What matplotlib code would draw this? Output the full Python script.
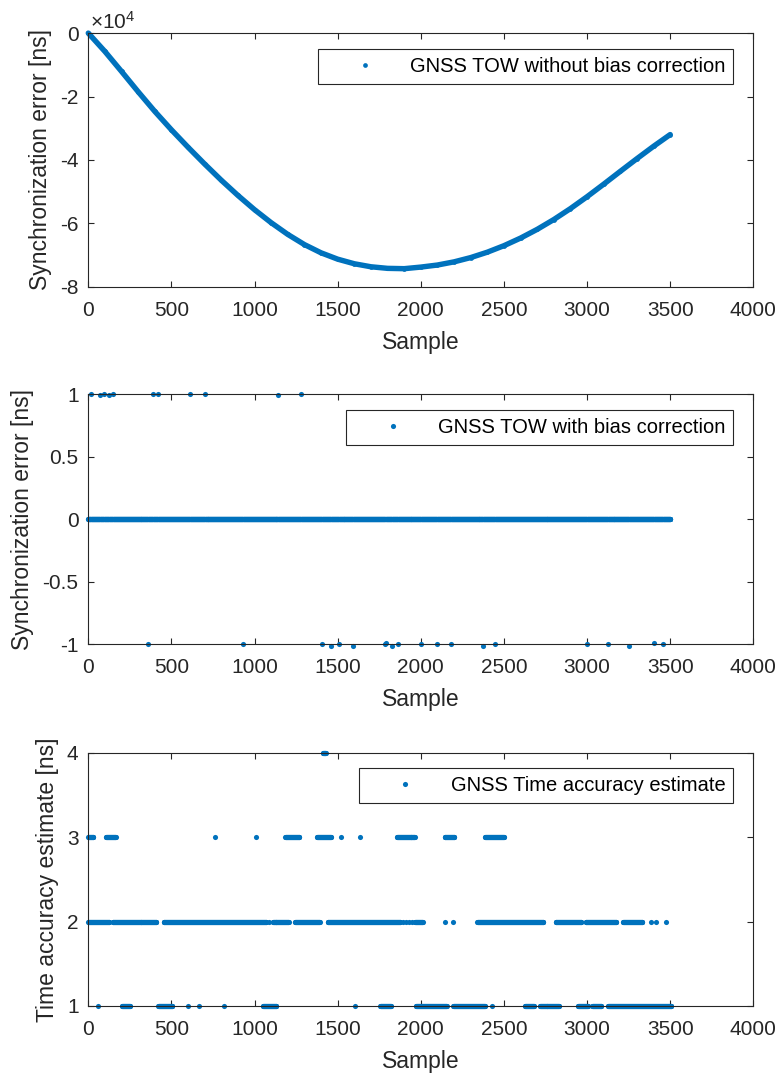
import matplotlib
matplotlib.use("Agg")
import matplotlib.pyplot as plt
import numpy as np

plt.rcParams['font.family'] = ['Liberation Sans', 'DejaVu Sans']
plt.rcParams['mathtext.fontset'] = 'custom'
plt.rcParams['mathtext.rm'] = 'Liberation Sans'
plt.rcParams['mathtext.default'] = 'regular'

BLUE = '#0072BD'
DARK = '#262626'

# --- TOW error without bias correction (ns), every 100 samples ---
tow_raw_sample = [0, 100, 200, 300, 400, 500, 600, 700, 800, 900, 1000,
                  1100, 1200, 1300, 1400, 1500, 1600, 1700, 1800, 1900, 2000,
                  2100, 2200, 2300, 2400, 2500, 2600, 2700, 2800, 2900, 3000,
                  3100, 3200, 3300, 3400, 3500]
tow_raw_err = [0, -5800, -12100, -18500, -24700, -30500, -36000, -41300,
               -46400, -51200, -55700, -59800, -63500, -66700, -69300,
               -71300, -72750, -73700, -74200, -74300, -73800, -73150,
               -72150, -70800, -69100, -67050, -64650, -61900, -58800,
               -55350, -51600, -47650, -43600, -39600, -35700, -32000]

# --- TOW error with bias correction: zero except these samples ---
n_samples = 3500
tow_plus_idx = [14, 70, 94, 122, 146, 390, 420, 610, 704, 1142, 1282]
tow_plus_val = [1.0, 0.99, 1.0, 0.99, 1.0, 1.0, 1.0, 1.0, 1.0, 0.99, 1.0]
tow_minus_idx = [362, 929, 1406, 1460, 1510, 1592, 1782, 1790, 1828, 1864,
                 2004, 2100, 2184, 2372, 2444, 3000, 3128, 3254, 3404, 3456]
tow_minus_val = [-1.0, -1.0, -1.0, -1.01, -1.0, -1.01, -1.0, -0.99, -1.01,
                 -1.0, -1.0, -1.0, -1.0, -1.01, -1.0, -1.0, -1.0, -1.01,
                 -0.99, -1.0]

# --- time accuracy estimate (ns): sample runs at each level ---
acc_runs_1 = [(56, 56), (202, 250), (422, 506), (600, 600), (666, 666),
              (816, 816), (1050, 1130), (1602, 1602), (1756, 1820),
              (1972, 2156), (2196, 2386), (2426, 2426), (2626, 2680),
              (2716, 2832), (2946, 3006), (3032, 3086), (3126, 3506)]
acc_runs_2 = [(0, 126), (146, 410), (454, 1070), (1086, 1086), (1110, 1206),
              (1244, 1392), (1440, 1876), (1890, 1890), (1910, 1910),
              (1930, 1930), (1950, 1950), (1966, 2012), (2148, 2148),
              (2196, 2196), (2340, 2736), (2812, 2966), (2992, 3176),
              (3216, 3332), (3386, 3386), (3416, 3416), (3476, 3476)]
acc_runs_3 = [(0, 30), (106, 164), (762, 762), (1008, 1008), (1186, 1270),
              (1376, 1460), (1520, 1520), (1632, 1632), (1856, 1964),
              (2144, 2202), (2386, 2500)]
acc_runs_4 = [(1412, 1428)]

x_ticks = [0, 500, 1000, 1500, 2000, 2500, 3000, 3500, 4000]


def expand_runs(runs, level, step=2):
    xs = np.concatenate([np.arange(a, b + 1, step) for a, b in runs])
    return xs, np.full(len(xs), level, dtype=float)


def style_axes(ax):
    for sp in ax.spines.values():
        sp.set_color(DARK)
        sp.set_linewidth(0.8)
    ax.tick_params(direction='in', length=4.3, width=0.8, color=DARK,
                   labelcolor=DARK, labelsize=15, top=True, right=True)
    ax.tick_params(axis='x', pad=10)
    ax.tick_params(axis='y', pad=7)
    ax.set_xlim(0, 4000)
    ax.set_xticks(x_ticks)
    ax.set_xlabel('Sample', fontsize=16.5, color=DARK, labelpad=8)


def add_legend(ax, top):
    leg = ax.legend(loc='upper right', bbox_to_anchor=(0.970, top),
                    borderaxespad=0, fontsize=14.5, fancybox=False,
                    framealpha=1, edgecolor=DARK, borderpad=0.4,
                    handlelength=3.8, handletextpad=0.35, markerscale=1.0)
    leg.get_frame().set_linewidth(0.8)
    for t in leg.get_texts():
        t.set_color('black')


fig = plt.figure(figsize=(7.8, 10.78), dpi=100)
ax1 = fig.add_axes([0.1132, 0.734, 0.8526, 0.2353])
ax2 = fig.add_axes([0.1132, 0.4023, 0.8526, 0.2322])
ax3 = fig.add_axes([0.1132, 0.0668, 0.8526, 0.2350])

# top: raw error, drawn as a thick band with the samples on it
ax1.plot(tow_raw_sample, tow_raw_err, '-', color=BLUE, lw=3.9,
         solid_capstyle='round', solid_joinstyle='round', clip_on=False)
ax1.plot(tow_raw_sample, tow_raw_err, 'o', color=BLUE, ms=3.4, mew=0,
         clip_on=False, label='GNSS TOW without bias correction')
style_axes(ax1)
ax1.set_ylim(-80000, 0)
ax1.set_yticks([-80000, -60000, -40000, -20000, 0])
ax1.set_yticklabels(['-8', '-6', '-4', '-2', '0'])
ax1.text(0.003, 1.0, r'$\times10^{4}$', transform=ax1.transAxes,
         ha='left', va='bottom', fontsize=15, color=DARK)
ax1.set_ylabel('Synchronization error [ns]', fontsize=16.5, color=DARK,
               labelpad=6)
add_legend(ax1, 0.936)

# middle: corrected error
samples = np.arange(0, n_samples + 1)
tow_corr = np.zeros(len(samples))
tow_corr[tow_plus_idx] = tow_plus_val
tow_corr[tow_minus_idx] = tow_minus_val
ax2.plot(samples, tow_corr, 'o', color=BLUE, ms=3.7, mew=0, clip_on=False,
         label='GNSS TOW with bias correction')
style_axes(ax2)
ax2.set_ylim(-1, 1)
ax2.set_yticks([-1, -0.5, 0, 0.5, 1])
ax2.set_yticklabels(['-1', '-0.5', '0', '0.5', '1'])
ax2.set_ylabel('Synchronization error [ns]', fontsize=16.5, color=DARK,
               labelpad=6)
add_legend(ax2, 0.936)

# bottom: time accuracy estimate
parts = [expand_runs(acc_runs_1, 1), expand_runs(acc_runs_2, 2),
         expand_runs(acc_runs_3, 3), expand_runs(acc_runs_4, 4)]
acc_x = np.concatenate([p[0] for p in parts])
acc_y = np.concatenate([p[1] for p in parts])
ax3.plot(acc_x, acc_y, 'o', color=BLUE, ms=3.7, mew=0, clip_on=False,
         label='GNSS Time accuracy estimate')
style_axes(ax3)
ax3.set_ylim(1, 4)
ax3.set_yticks([1, 2, 3, 4])
ax3.set_ylabel('Time accuracy estimate [ns]', fontsize=16.5, color=DARK,
               labelpad=6)
add_legend(ax3, 0.938)

fig.savefig('out.png', dpi=100)
